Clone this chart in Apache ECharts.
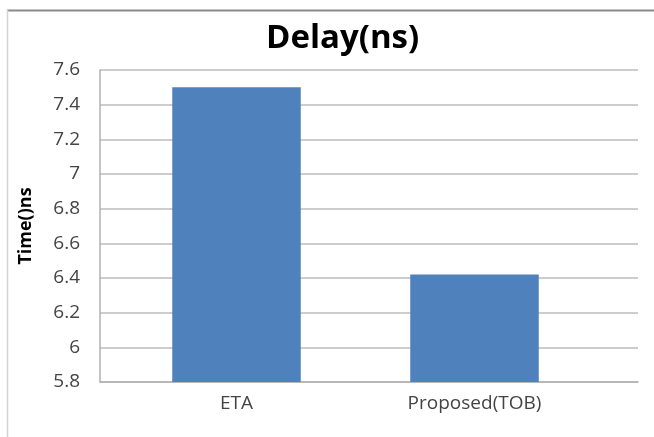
<!DOCTYPE html>
<html>
<head>
<meta charset="utf-8">
<script src="https://cdn.jsdelivr.net/npm/echarts@6/dist/echarts.min.js"></script>
<style>
  html, body { margin: 0; padding: 0; background: #fff; }
  #chart { width: 654px; height: 437px; }
</style>
</head>
<body>
<div id="chart"></div>
<script>
// Delay comparison (ns)
const categories = ['ETA', 'Proposed(TOB)'];
const delayValues = [7.5, 6.42];
const yMin = 5.8;
const yMax = 7.6;
const yStep = 0.2;

const chart = echarts.init(document.getElementById('chart'), null, { renderer: 'canvas' });
const font = '"Open Sans", sans-serif';
const labelColor = '#444';

chart.setOption({
  animation: false,
  backgroundColor: '#fff',
  title: {
    text: 'Delay(ns)',
    left: 261,
    top: 17,
    textStyle: { fontFamily: font, fontSize: 33, fontWeight: 'bold', color: '#000' }
  },
  graphic: [
    { type: 'line', shape: { x1: 7, y1: 10.5, x2: 654, y2: 10.5 }, style: { stroke: '#8a8a8a', lineWidth: 2 } },
    { type: 'line', shape: { x1: 7.5, y1: 10, x2: 7.5, y2: 437 }, style: { stroke: '#d4d4d4', lineWidth: 1.5 } }
  ],
  grid: [
    // full plot frame: value gridlines and y labels
    { left: 100, right: 16, top: 70, bottom: 55 },
    // band area holding the two category columns
    { left: 117.5, right: 60.5, top: 70, bottom: 55 }
  ],
  xAxis: [
    {
      gridIndex: 0,
      type: 'value',
      min: 0,
      max: 1,
      axisLine: { show: true, onZero: false, lineStyle: { color: '#b0b0b0', width: 1.5 } },
      axisTick: { show: false },
      axisLabel: { show: false },
      splitLine: { show: false }
    },
    {
      gridIndex: 1,
      type: 'category',
      data: categories,
      axisLine: { show: false },
      axisTick: { show: false },
      axisLabel: { fontFamily: font, fontSize: 19, color: labelColor, margin: 12 }
    }
  ],
  yAxis: [
    {
      gridIndex: 0,
      type: 'value',
      min: yMin,
      max: yMax,
      interval: yStep,
      name: 'Time()ns',
      nameLocation: 'middle',
      nameGap: 65,
      nameRotate: 90,
      nameTextStyle: { fontFamily: font, fontSize: 18, fontWeight: 'bold', color: '#000' },
      axisLine: { show: true, lineStyle: { color: '#b0b0b0', width: 1.5 } },
      axisTick: { show: false },
      splitLine: { lineStyle: { color: '#bdbdbd', width: 1.5 } },
      axisLabel: {
        fontFamily: font, fontSize: 19, color: labelColor, margin: 20,
        formatter: v => String(parseFloat(v.toFixed(1)))
      }
    },
    {
      gridIndex: 1,
      type: 'value',
      min: yMin,
      max: yMax,
      interval: yStep,
      show: false,
      splitLine: { show: false }
    }
  ],
  series: [{
    type: 'bar',
    xAxisIndex: 1,
    yAxisIndex: 1,
    data: delayValues,
    barWidth: '54%',
    itemStyle: { color: '#4f81bd' }
  }]
});
</script>
</body>
</html>
